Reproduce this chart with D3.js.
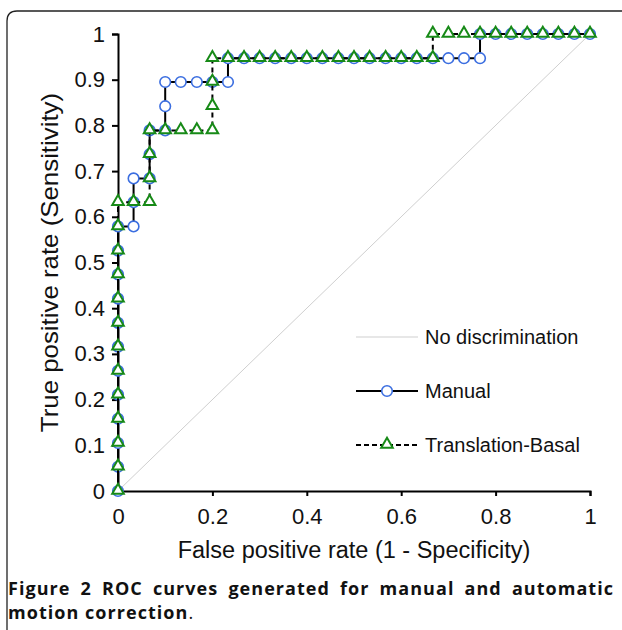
<!DOCTYPE html>
<html>
<head>
<meta charset="utf-8">
<script src="https://cdn.jsdelivr.net/npm/d3@7"></script>
<style>
  body { margin: 0; background: #fff; }
  text { font-family: "Liberation Sans", Arial, sans-serif; }
</style>
</head>
<body>
<script>
// ROC data (19 positives, 30 negatives)
var manualFpr = [0, 0, 0, 0, 0, 0, 0, 0, 0, 0, 0, 0,
  0.033, 0.033, 0.033, 0.067, 0.067, 0.067, 0.1, 0.1, 0.1,
  0.133, 0.167, 0.2, 0.233, 0.233, 0.267, 0.3, 0.333, 0.367, 0.4, 0.433, 0.467,
  0.5, 0.533, 0.567, 0.6, 0.633, 0.667, 0.7, 0.733, 0.767,
  0.767, 0.8, 0.833, 0.867, 0.9, 0.933, 0.967, 1];
var manualTpr = [0, 0.053, 0.105, 0.158, 0.211, 0.263, 0.316, 0.368, 0.421, 0.474, 0.526, 0.579,
  0.579, 0.632, 0.684, 0.684, 0.737, 0.789, 0.789, 0.842, 0.895,
  0.895, 0.895, 0.895, 0.895, 0.947, 0.947, 0.947, 0.947, 0.947, 0.947, 0.947, 0.947,
  0.947, 0.947, 0.947, 0.947, 0.947, 0.947, 0.947, 0.947, 0.947,
  1, 1, 1, 1, 1, 1, 1, 1];

var basalFpr = [0, 0, 0, 0, 0, 0, 0, 0, 0, 0, 0, 0, 0,
  0.033, 0.067, 0.067, 0.067, 0.067, 0.1, 0.133, 0.167, 0.2, 0.2, 0.2, 0.2,
  0.233, 0.267, 0.3, 0.333, 0.367, 0.4, 0.433, 0.467, 0.5, 0.533, 0.567, 0.6, 0.633, 0.667,
  0.667, 0.7, 0.733, 0.767, 0.8, 0.833, 0.867, 0.9, 0.933, 0.967, 1];
var basalTpr = [0, 0.053, 0.105, 0.158, 0.211, 0.263, 0.316, 0.368, 0.421, 0.474, 0.526, 0.579, 0.632,
  0.632, 0.632, 0.684, 0.737, 0.789, 0.789, 0.789, 0.789, 0.789, 0.842, 0.895, 0.947,
  0.947, 0.947, 0.947, 0.947, 0.947, 0.947, 0.947, 0.947, 0.947, 0.947, 0.947, 0.947, 0.947, 0.947,
  1, 1, 1, 1, 1, 1, 1, 1, 1, 1, 1];

var diagonal = [0, 1];
var xTicks = [0, 0.2, 0.4, 0.6, 0.8, 1];
var yTicks = [0, 0.1, 0.2, 0.3, 0.4, 0.5, 0.6, 0.7, 0.8, 0.9, 1];
var legendLabels = ["No discrimination", "Manual", "Translation-Basal"];
var captionWords = ["Figure", "2", "ROC", "curves", "generated", "for", "manual", "and", "automatic"];

var svg = d3.select("body").append("svg")
    .attr("width", 622)
    .attr("height", 630);

// frame round the figure
svg.append("path")
    .attr("d", "M7,640 L7,21 Q7,11 17,11 L630,11")
    .attr("fill", "none")
    .attr("stroke", "#222")
    .attr("stroke-width", 1.3);

var margin = {top: 34, left: 118},
    width = 472,
    height = 457,
    g = svg.append("g").attr("transform", "translate(" + margin.left + "," + margin.top + ")");

var x = d3.scaleLinear().domain([0, 1]).range([0, width]);
var y = d3.scaleLinear().domain([0, 1]).range([height, 0]);

var xAxis = g.append("g")
    .attr("transform", "translate(0," + height + ")")
    .call(d3.axisBottom(x).tickValues(xTicks).tickFormat(d3.format("")).tickSize(5).tickPadding(12));
var yAxis = g.append("g")
    .call(d3.axisLeft(y).tickValues(yTicks).tickFormat(d3.format("")).tickSize(6).tickPadding(7));

[xAxis, yAxis].forEach(function(a) {
  a.select(".domain").attr("stroke", "#000").attr("stroke-width", 2);
  a.selectAll(".tick line").attr("stroke", "#000").attr("stroke-width", 2);
  a.selectAll(".tick text").attr("fill", "#111")
      .style("font-family", "Liberation Sans, Arial, sans-serif").style("font-size", "22px");
});

// no-discrimination diagonal
g.append("line")
    .attr("x1", x(diagonal[0])).attr("y1", y(diagonal[0]))
    .attr("x2", x(diagonal[1])).attr("y2", y(diagonal[1]))
    .attr("stroke", "#cfcfcf")
    .attr("stroke-width", 1);

var manual = manualFpr.map(function(f, i) { return [f, manualTpr[i]]; });
var basal = basalFpr.map(function(f, i) { return [f, basalTpr[i]]; });

var line = d3.line()
    .x(function(d) { return x(d[0]); })
    .y(function(d) { return y(d[1]); });

g.append("path")
    .datum(manual)
    .attr("fill", "none")
    .attr("stroke", "#000")
    .attr("stroke-width", 2)
    .attr("d", line);

g.selectAll(".circ")
    .data(manual)
  .enter().append("circle")
    .attr("class", "circ")
    .attr("cx", function(d) { return x(d[0]); })
    .attr("cy", function(d) { return y(d[1]); })
    .attr("r", 5.3)
    .attr("fill", "#fff")
    .attr("stroke", "#3b6ee0")
    .attr("stroke-width", 1.6);

g.append("path")
    .datum(basal)
    .attr("fill", "none")
    .attr("stroke", "#000")
    .attr("stroke-width", 2)
    .attr("stroke-dasharray", "5,4")
    .attr("d", line);

var tri = d3.symbol().type(d3.symbolTriangle).size(58);

g.selectAll(".tri")
    .data(basal)
  .enter().append("path")
    .attr("class", "tri")
    .attr("transform", function(d) { return "translate(" + x(d[0]) + "," + (y(d[1]) - 0.5) + ")"; })
    .attr("d", tri)
    .attr("fill", "#fff")
    .attr("stroke", "#178a17")
    .attr("stroke-width", 2);

// axis titles
svg.append("text")
    .attr("x", margin.left + width / 2)
    .attr("y", 558)
    .attr("text-anchor", "middle")
    .style("font-size", "23.5px")
    .attr("fill", "#111")
    .text("False positive rate (1 - Specificity)");

svg.append("text")
    .attr("transform", "translate(58," + (margin.top + height / 2) + ") rotate(-90) scale(1.1,1)")
    .attr("text-anchor", "middle")
    .style("font-size", "23.5px")
    .attr("fill", "#111")
    .text("True positive rate (Sensitivity)");

// legend
var leg = svg.append("g").attr("transform", "translate(356,337)");
var rowGap = [0, 54, 108];

leg.append("line").attr("x1", 0).attr("x2", 62).attr("y1", rowGap[0]).attr("y2", rowGap[0])
    .attr("stroke", "#cfcfcf").attr("stroke-width", 1);
leg.append("line").attr("x1", 0).attr("x2", 62).attr("y1", rowGap[1]).attr("y2", rowGap[1])
    .attr("stroke", "#000").attr("stroke-width", 2);
leg.append("circle").attr("cx", 31).attr("cy", rowGap[1]).attr("r", 5.3)
    .attr("fill", "#fff").attr("stroke", "#3b6ee0").attr("stroke-width", 1.6);
leg.append("line").attr("x1", 0).attr("x2", 62).attr("y1", rowGap[2]).attr("y2", rowGap[2])
    .attr("stroke", "#000").attr("stroke-width", 2).attr("stroke-dasharray", "5,3");
leg.append("path").attr("transform", "translate(31," + (rowGap[2] - 0.5) + ")").attr("d", tri)
    .attr("fill", "#fff").attr("stroke", "#178a17").attr("stroke-width", 2);

leg.selectAll(".lt")
    .data(legendLabels)
  .enter().append("text")
    .attr("class", "lt")
    .attr("x", 69)
    .attr("y", function(d, i) { return rowGap[i] + 7; })
    .style("font-size", "20px")
    .attr("fill", "#111")
    .text(function(d) { return d; });

// caption, first line justified: slight letter spacing, ~10px word gaps
var capStyle = function(t) {
  return t.style("font-family", "Open Sans, sans-serif")
      .style("font-size", "18px")
      .style("font-weight", "bold")
      .attr("fill", "#111");
};
var cap = capStyle(svg.append("text").attr("y", 595));
var words = cap.selectAll("tspan")
    .data(captionWords)
  .enter().append("tspan")
    .text(function(d) { return d; });
var widths = [];
words.each(function() { widths.push(this.getComputedTextLength()); });
var nChars = d3.sum(captionWords, function(w) { return w.length; });
var ls = Math.max(0, (605 - 8 * 10 - d3.sum(widths)) / nChars);
cap.style("letter-spacing", ls + "px");
widths = widths.map(function(w, i) { return w + captionWords[i].length * ls; });
var gap = (613 + ls - 8 - d3.sum(widths)) / (captionWords.length - 1);
var pos = 8;
words.attr("x", function(d, i) { var p = pos; pos += widths[i] + gap; return p; });

var cap2 = capStyle(svg.append("text").attr("x", 8).attr("y", 619))
    .style("letter-spacing", ls + "px");
cap2.append("tspan").text("motion correction");
cap2.append("tspan").style("font-weight", "normal").text(".");
</script>
</body>
</html>
